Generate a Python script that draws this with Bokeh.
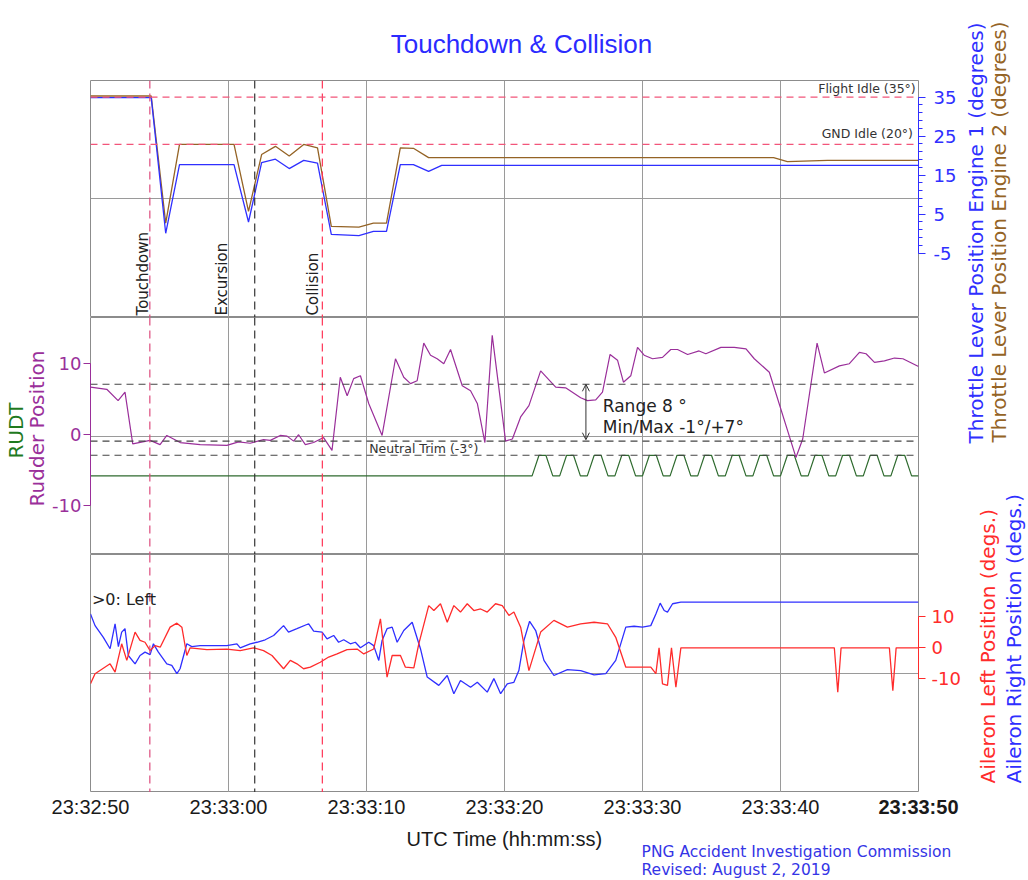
import math
from bokeh.plotting import figure
from bokeh.models import Range1d, LinearAxis, FixedTicker, Grid, Span, Label, Arrow, OpenHead
from bokeh.layouts import column, row
from bokeh.embed import file_html
from bokeh.resources import INLINE

# ---------------- data (time = seconds after 23:32:50 UTC) ----------------
TICK_SECONDS = [0, 10, 20, 30, 40, 50, 60]
TICK_LABELS = ["23:32:50", "23:33:00", "23:33:10", "23:33:20", "23:33:30", "23:33:40", "23:33:50"]

EVENT_T = [4.3, 11.9, 16.8]
EVENT_NAMES = ["Touchdown", "Excursion", "Collision"]
EVENT_LABEL_T = [3.81, 9.56, 16.15]

FLIGHT_IDLE = 35.0
GND_IDLE_LINE = 22.9
RUD_MAX = 7.0
RUD_MIN = -1.0
NEUTRAL_TRIM = -3.0

ENG1_T = [0, 4.4, 5.45, 6.45, 10.4, 11.45, 12.4, 13.4, 14.4, 15.45, 16.45, 17.45, 19.45, 20.5,
          21.45, 22.45, 23.4, 24.5, 25.45, 60]
ENG1 = [34.9, 34.9, 0.1, 17.7, 17.7, 3.0, 18.2, 19.1, 16.7, 18.8, 18.1, -0.2, -0.5, 0.6,
        0.6, 17.7, 17.7, 16.0, 17.5, 17.5]

ENG2_T = [0, 4.4, 5.45, 6.45, 10.4, 11.45, 12.4, 13.4, 14.4, 15.45, 16.45, 17.45, 19.45, 20.5,
          21.45, 22.45, 23.4, 24.5, 25.45, 49.5, 50.5, 53.4, 60]
ENG2 = [35.3, 35.3, 2.7, 22.9, 22.9, 5.7, 20.3, 22.4, 19.9, 22.9, 22.0, 1.9, 1.7, 2.7,
        2.7, 22.0, 21.9, 19.5, 19.5, 19.5, 18.5, 18.8, 18.8]

RUD_T = [0, 1.18, 2.0, 2.5, 3.06, 4.32, 5.04, 5.53, 6.5, 7.95, 9.88, 10.73, 11.57, 12.54, 13.03,
         13.75, 14.24, 14.72, 15.08, 15.57, 16.17, 16.89, 17.5, 18.1, 18.6, 19.07, 19.56, 20.16,
         21.13, 22.1, 22.7, 23.19, 23.67, 24.15, 24.64, 25.12, 25.6, 26.09, 26.94, 27.54, 28.03,
         28.58, 29.11, 30.08, 30.57, 31.17, 31.77, 32.62, 33.71, 34.43, 35.52, 36.01, 36.61,
         37.1, 37.65, 38.19, 38.62, 39.15, 39.64, 40.12, 40.73, 41.45, 42.05, 42.54, 43.27,
         44.1, 44.59, 45.68, 46.65, 47.5, 48.1, 49.19, 51.12, 51.61, 52.65, 53.18, 54.27, 54.99,
         55.72, 56.2, 56.81, 57.53, 58.26, 58.87, 60.0]
RUD = [6.6, 6.3, 4.7, 5.9, -1.4, -0.9, -1.5, -0.2, -1.2, -1.5, -1.6, -1.1, -1.3, -0.8, -0.9,
       -0.2, -0.3, -1.0, -0.1, -1.5, -1.2, -0.5, -2.3, 8.0, 5.4, 7.8, 8.2, 4.3,
       -0.2, 10.6, 8.0, 7.1, 7.5, 12.8, 11.1, 10.6, 9.9, 11.9, 6.8, 6.1, 4.3,
       -1.2, 13.9, -1.0, -0.7, 2.4, 4.0, 8.9, 6.6, 6.5, 5.1, 4.7, 4.8,
       5.9, 11.2, 10.4, 7.3, 8.2, 12.2, 11.1, 10.6, 10.8, 11.9, 11.9, 11.2,
       11.7, 11.3, 12.2, 12.2, 12.0, 10.6, 8.7, -3.3, -0.7, 12.8, 8.6, 9.6, 9.9,
       11.5, 11.3, 10.1, 10.3, 10.7, 10.6, 9.5]

RUDT_T = [0.0, 32.0, 32.5, 33.0, 33.5, 34.0, 34.5, 35.0, 35.5, 36.0, 36.5, 37.0, 37.5, 38.0,
          38.5, 39.0, 39.5, 40.0, 40.5, 41.0, 41.5, 42.0, 42.5, 43.0, 43.5, 44.0, 44.5, 45.0,
          45.5, 46.0, 46.5, 47.0, 47.5, 48.0, 48.5, 49.0, 49.5, 50.0, 50.5, 51.0, 51.5, 52.0,
          52.5, 53.0, 53.5, 54.0, 54.5, 55.0, 55.5, 56.0, 56.5, 57.0, 57.5, 58.0, 58.5, 59.0,
          59.5, 60.0]
RUDT = [-5.9, -5.9, -3.0, -3.0, -5.9, -5.9, -3.0, -3.0, -5.9, -5.9, -3.0, -3.0, -5.9, -5.9,
        -3.0, -3.0, -5.9, -5.9, -3.0, -3.0, -5.9, -5.9, -3.0, -3.0, -5.9, -5.9, -3.0, -3.0,
        -5.9, -5.9, -3.0, -3.0, -5.9, -5.9, -3.0, -3.0, -5.9, -5.9, -3.0, -3.0, -5.9, -5.9,
        -3.0, -3.0, -5.9, -5.9, -3.0, -3.0, -5.9, -5.9, -3.0, -3.0, -5.9, -5.9, -3.0, -3.0,
        -5.9, -5.9]

AIL_L_T = [0.0, 0.33, 1.42, 1.78, 2.26, 2.63, 3.23, 3.59, 3.95, 4.32, 4.68, 5.05, 5.77, 6.26,
           6.62, 6.98, 7.22, 8.43, 9.88, 10.85, 11.81, 12.54, 13.15, 13.99, 14.48, 14.96, 15.44,
           15.93, 16.65, 17.26, 17.87, 18.59, 19.32, 19.8, 20.52, 21.01, 21.49, 21.86, 22.46,
           22.82, 23.43, 23.79, 24.51, 24.88, 25.36, 25.85, 26.33, 26.81, 27.3, 27.78, 28.27,
           28.75, 29.35, 29.84, 30.32, 30.68, 31.17, 31.77, 32.62, 33.58, 34.56, 35.52, 36.49,
           37.46, 38.06, 38.79, 40.6, 40.97, 41.2, 41.45, 41.81, 42.1, 42.42, 42.78, 53.9, 54.15,
           54.39, 57.89, 58.14, 58.38, 60.0]
AIL_L = [-11.7, -8.4, -5.2, -7.9, 1.3, -4.1, 5.1, 2.4, 1.8, -0.9, 0.7, 0.2, 6.7, 8.0,
         6.7, -2.5, 0.0, -0.6, -0.4, -0.9, 0.0, -0.9, -2.5, -6.8, -4.1, -5.2, -6.8,
         -6.3, -4.7, -3.0, -2.0, -0.6, -0.4, -2.0, -0.4, 9.4, -9.5, -2.5, -2.5,
         -6.3, -6.5, 1.3, 13.7, 12.1, 14.3, 8.3, 13.7, 11.6, 14.3, 12.1, 12.6,
         11.6, 14.3, 13.7, 10.5, 11.6, 6.7, -7.4, 5.1, 8.9, 6.7, 7.8, 8.3,
         7.8, 3.4, -6.3, -6.3, -8.4, 0.0, -11.7, -12.2, 0.0, -12.8, 0.0, 0.0, -14.4,
         0.0, 0.0, -13.9, 0.0, 0.0]

AIL_R_T = [0.0, 0.33, 0.93, 1.42, 1.78, 2.02, 2.26, 2.5, 2.74, 3.23, 3.59, 3.95, 4.32, 4.56,
           4.92, 5.53, 5.89, 6.26, 6.49, 6.98, 7.34, 7.95, 9.88, 10.61, 10.85, 11.57, 12.06,
           12.66, 13.27, 13.99, 14.35, 14.96, 15.81, 16.17, 16.78, 17.14, 17.62, 17.98, 18.35,
           18.83, 19.19, 19.56, 20.16, 20.52, 20.89, 21.13, 21.49, 21.86, 22.22, 22.7, 23.31,
           23.91, 24.4, 25.24, 25.85, 26.33, 26.81, 27.54, 28.03, 28.75, 29.23, 29.72, 30.2,
           30.68, 31.04, 31.41, 31.82, 32.26, 32.86, 33.58, 34.56, 35.52, 36.49, 37.34, 38.06,
           38.79, 39.39, 40.0, 40.6, 40.97, 41.28, 41.57, 41.81, 42.18, 42.78, 60.0]
AIL_R = [11.0, 7.2, 3.4, -0.3, 7.8, 0.4, 5.1, 6.2, -2.5, -5.2, -2.5, -1.4, -2.2, 1.3,
         -1.4, -5.2, -5.7, -8.4, -6.8, 1.3, 0.4, 0.7, 0.7, 1.3, 0.0, 1.3, 1.8,
         2.6, 4.0, 7.2, 5.1, 6.2, 7.8, 5.4, 5.1, 2.9, 4.0, 1.8, 2.6,
         1.3, 1.8, 0.0, 1.8, 0.7, -4.1, 2.4, 6.2, 6.7, 1.8, 5.6, 8.3,
         -0.3, -9.5, -12.2, -9.0, -14.9, -10.6, -12.8, -11.2, -14.4, -10.0, -14.9, -11.7,
         -11.2, -7.4, 2.4, 8.6, 5.6, -4.1, -9.0, -7.1, -7.4, -8.8, -8.4, -4.1,
         6.7, 7.0, 6.7, 7.2, 11.0, 14.5, 12.1, 11.6, 14.3, 14.8, 14.8]

THR_TICKS = [-5, 5, 15, 25, 35]
THR_MINOR = [-3, -1, 1, 3, 7, 9, 11, 13, 17, 19, 21, 23, 27, 29, 31, 33]
RUD_TICKS = [-10, 0, 10]
AIL_TICKS = [-10, 0, 10]

# ---------------- style / geometry ----------------
BLUE = "#2f2fff"
BROWN = "#946325"
PURPLE = "#9a2f9a"
GREEN = "#2f6b2f"
RED = "#ff2b2b"
IDLE_RED = "#f2557a"
EVENT_COLORS = ["#dc4a7c", "#333333", "#ff3355"]
GRID_C = "#9a9a9a"
FRAME_C = "#8c8c8c"
DV = "DejaVu Sans"
LS = "Liberation Sans"

PAGE_W, PAGE_H = 1028, 880
LEFT_STRIP = 48
LEFT_B, FRAME_W, RIGHT_B = 42, 828, 46
MAIN_W = LEFT_B + FRAME_W + RIGHT_B
RIGHT_STRIP = PAGE_W - LEFT_STRIP - MAIN_W
H_HEAD, H_TOP, H_MID, H_BOT = 80, 237, 237, 238
H_FOOT = PAGE_H - H_HEAD - H_TOP - H_MID - H_BOT
PX_PER_S = FRAME_W / (TICK_SECONDS[-1] - TICK_SECONDS[0])

xr = Range1d(TICK_SECONDS[0], TICK_SECONDS[-1])


def strip(width, height, x_range=None):
    s = figure(width=width, height=height,
               x_range=x_range if x_range is not None else Range1d(0, width),
               y_range=Range1d(0, height), x_axis_type=None, y_axis_type=None,
               toolbar_location=None, output_backend="svg", min_border=0)
    s.frame_align = False
    s.outline_line_color = None
    s.background_fill_color = "white"
    s.border_fill_color = "white"
    return s


def make_fig(height, yr, mid_grid):
    p = figure(width=MAIN_W, height=height, x_range=xr, y_range=yr,
               x_axis_type=None, y_axis_type=None, toolbar_location=None,
               output_backend="svg", min_border=0, min_border_left=LEFT_B,
               min_border_right=RIGHT_B)
    p.outline_line_color = FRAME_C
    p.outline_line_width = 1
    p.background_fill_color = "white"
    p.border_fill_color = "white"
    p.add_layout(Grid(dimension=0, ticker=FixedTicker(ticks=TICK_SECONDS[1:-1]),
                      grid_line_color=GRID_C, grid_line_width=1))
    p.add_layout(Grid(dimension=1, ticker=FixedTicker(ticks=[mid_grid]),
                      grid_line_color=GRID_C, grid_line_width=1))
    for t, c in zip(EVENT_T, EVENT_COLORS):
        p.add_layout(Span(location=t, dimension="height", line_color=c,
                          line_dash="8 5", line_width=1.2))
    return p


def side_axis(ticks, color, bounds, minor=None, overrides=None, standoff=2):
    return LinearAxis(ticker=FixedTicker(ticks=ticks, minor_ticks=minor or []), bounds=bounds,
                      major_label_overrides=overrides or {},
                      axis_line_color=color, major_tick_line_color=color,
                      minor_tick_line_color=color, major_tick_out=7, major_tick_in=0,
                      minor_tick_out=4, minor_tick_in=0, major_label_text_color=color,
                      major_label_text_font=DV, major_label_text_font_size="18px",
                      major_label_standoff=standoff)


# ---------------- header (title) ----------------
head = strip(MAIN_W, H_HEAD)
head.add_layout(Label(x=521 - LEFT_STRIP, y=H_HEAD - 43, text="Touchdown & Collision",
                      text_align="center", text_baseline="middle", text_font=LS,
                      text_font_size="26px", text_color="#2b2bff"))

# ---------------- top: throttle ----------------
top = make_fig(H_TOP, Range1d(-21.49, 39.28), 8.9)
for lvl in (FLIGHT_IDLE, GND_IDLE_LINE):
    top.add_layout(Span(location=lvl, dimension="width", line_color=IDLE_RED,
                        line_dash="7 5", line_width=1.3))
top.line(ENG2_T, ENG2, line_color=BROWN, line_width=1.3)
top.line(ENG1_T, ENG1, line_color=BLUE, line_width=1.3)
top.add_layout(side_axis(THR_TICKS, BLUE, (-5, 35), THR_MINOR, {-5: "-5"}, 8), "right")
top.add_layout(Label(x=59.8, y=37.2, text="Flight Idle (35°)", text_align="right",
                     text_baseline="middle", text_font=DV, text_font_size="12.5px",
                     text_color="#333333"))
top.add_layout(Label(x=59.6, y=25.7, text="GND Idle (20°)", text_align="right",
                     text_baseline="middle", text_font=DV, text_font_size="12.5px",
                     text_color="#333333"))
for name, lt in zip(EVENT_NAMES, EVENT_LABEL_T):
    top.add_layout(Label(x=lt, y=-20.97, text=name, angle=math.pi / 2, text_align="left",
                         text_baseline="middle", text_font=DV, text_font_size="15px",
                         text_color="#222222"))

# ---------------- middle: rudder ----------------
mid = make_fig(H_MID, Range1d(-16.97, 16.41), -0.31)
for lvl in (RUD_MAX, RUD_MIN, NEUTRAL_TRIM):
    mid.add_layout(Span(location=lvl, dimension="width", line_color="#444444",
                        line_dash="7 5", line_width=1.1))
mid.line(RUDT_T, RUDT, line_color=GREEN, line_width=1.2)
mid.line(RUD_T, RUD, line_color=PURPLE, line_width=1.2)
mid.add_layout(side_axis(RUD_TICKS, PURPLE, (-10, 10), None, {-10: "-10"}, 2), "left")
mid.add_layout(Label(x=20.2, y=-2.04, text="Neutral Trim (-3°)", text_align="left",
                     text_baseline="middle", text_font=DV, text_font_size="12.5px",
                     text_color="#333333"))
mid.add_layout(Label(x=37.12, y=3.9, text="Range 8 °", text_align="left",
                     text_baseline="middle", text_font=DV, text_font_size="17px",
                     text_color="#222222"))
mid.add_layout(Label(x=37.12, y=0.96, text="Min/Max -1°/+7°", text_align="left",
                     text_baseline="middle", text_font=DV, text_font_size="17px",
                     text_color="#222222"))
mid.add_layout(Arrow(x_start=35.9, y_start=RUD_MIN + 0.2, x_end=35.9, y_end=RUD_MAX,
                     start=OpenHead(size=7, line_color="#333333", line_width=1),
                     end=OpenHead(size=7, line_color="#333333", line_width=1),
                     line_color="#333333", line_width=1))

# ---------------- bottom: ailerons ----------------
bot = make_fig(H_BOT, Range1d(-46.98, 30.29), -8.44)
bot.line(AIL_R_T, AIL_R, line_color=BLUE, line_width=1.3)
bot.line(AIL_L_T, AIL_L, line_color=RED, line_width=1.3)
bot.add_layout(side_axis(AIL_TICKS, RED, (-10, 10), None, {-10: "-10"}, 6), "right")
bot.add_layout(Label(x=0.1, y=15.6, text=">0: Left", text_align="left",
                     text_baseline="middle", text_font=DV, text_font_size="16px",
                     text_color="#222222"))

# ---------------- footer: time tick labels, axis title, credit ----------------
foot_x = Range1d(TICK_SECONDS[0] - LEFT_B / PX_PER_S, TICK_SECONDS[-1] + RIGHT_B / PX_PER_S)
foot = strip(MAIN_W, H_FOOT, foot_x)
for s, lab in zip(TICK_SECONDS, TICK_LABELS):
    foot.add_layout(Label(x=s, y=H_FOOT - 3, text=lab, text_align="center",
                          text_baseline="top", text_font=LS, text_font_size="20px",
                          text_font_style="bold" if s == TICK_SECONDS[-1] else "normal",
                          text_color="#1a1a1a"))
foot.add_layout(Label(x=30, y=H_FOOT - 46, text="UTC Time (hh:mm:ss)", text_align="center",
                      text_baseline="middle", text_font=LS, text_font_size="20px",
                      text_color="#1a1a1a"))
foot.add_layout(Label(x=39.93, y=H_FOOT - 59, text="PNG Accident Investigation Commission",
                      text_align="left", text_baseline="middle", text_font=DV,
                      text_font_size="15.5px", text_color="#3535e6"))
foot.add_layout(Label(x=39.93, y=H_FOOT - 77, text="Revised: August 2, 2019",
                      text_align="left", text_baseline="middle", text_font=DV,
                      text_font_size="15.5px", text_color="#3535e6"))

# ---------------- left strip: rudder axis titles ----------------
left = strip(LEFT_STRIP, PAGE_H)
left.add_layout(Label(x=36, y=PAGE_H - 428, text="Rudder Position", angle=math.pi / 2,
                      text_align="center", text_baseline="middle", text_font=DV,
                      text_font_size="20px", text_color=PURPLE))
left.add_layout(Label(x=15, y=PAGE_H - 430, text="RUDT", angle=math.pi / 2,
                      text_align="center", text_baseline="middle", text_font=DV,
                      text_font_size="20px", text_color="#1f7a1f"))

# ---------------- right strip: right-hand axis titles ----------------
right = strip(RIGHT_STRIP, PAGE_H)
x_off = LEFT_STRIP + MAIN_W
for txt, px, py, c in [
    ("Throttle Lever Position Engine 1 (degrees)", 975, 443, BLUE),
    ("Throttle Lever Position Engine 2 (degrees)", 998, 442, BROWN),
    ("Aileron Left Position (degs.)", 987, 783, RED),
    ("Aileron Right Position (degs.)", 1013, 783, BLUE),
]:
    right.add_layout(Label(x=px - x_off, y=PAGE_H - py, text=txt, angle=math.pi / 2,
                           text_align="left", text_baseline="middle", text_font=DV,
                           text_font_size="20px", text_color=c))

layout = row(left, column(head, top, mid, bot, foot), right)
open("out.html", "w").write(file_html(layout, INLINE, title="Touchdown & Collision"))
